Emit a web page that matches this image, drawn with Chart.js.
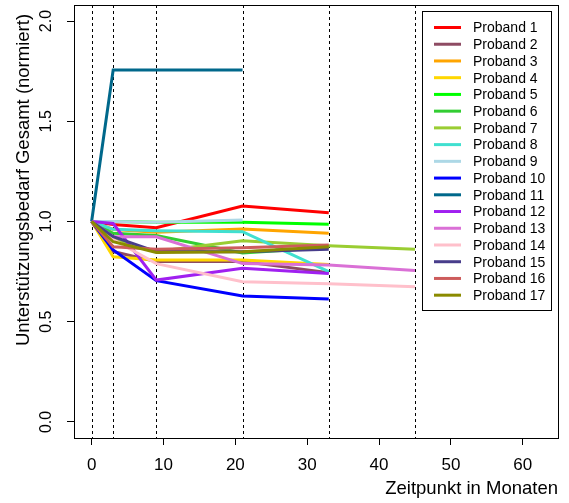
<!DOCTYPE html>
<html>
<head>
<meta charset="utf-8">
<script src="https://cdn.jsdelivr.net/npm/chart.js@4.4.0/dist/chart.umd.min.js"></script>
<style>
    html, body { margin: 0; padding: 0; background: #fff; }
    #wrap { width: 569px; height: 503px; }
</style>
</head>
<body>
<div id="wrap"><canvas id="plot"></canvas></div>
<script>
    // Zeitpunkte (Monate) und normierte Werte je Proband
    var months = [0, 3, 9, 21, 33, 45];
    var p1  = [1.00, 0.985, 0.969, 1.077, 1.044];
    var p2  = [1.00, 0.850, 0.800, 0.800, 0.745];
    var p3  = [1.00, 0.960, 0.946, 0.963, 0.941];
    var p4  = [1.00, 0.824, 0.808, 0.808, 0.785];
    var p5  = [1.00, 1.000, 0.996, 0.996, 0.986];
    var p6  = [1.00, 0.941, 0.930, 0.843, 0.870];
    var p7  = [1.00, 0.910, 0.850, 0.904, 0.879, 0.861];
    var p8  = [1.00, 0.961, 0.954, 0.949, 0.750];
    var p9  = [1.00, 1.000, 0.996, 1.007];
    var p10 = [1.00, 0.858, 0.705, 0.628, 0.613];
    var p11 = [1.00, 1.756, 1.756, 1.756];
    var p12 = [1.00, 0.990, 0.708, 0.767, 0.740];
    var p13 = [1.00, 0.924, 0.924, 0.790, 0.783, 0.755];
    var p14 = [1.00, 0.910, 0.790, 0.700, 0.690, 0.675];
    var p15 = [1.00, 0.924, 0.850, 0.849, 0.861];
    var p16 = [1.00, 0.874, 0.861, 0.869, 0.883];
    var p17 = [1.00, 0.899, 0.845, 0.849, 0.874];

    var series = [p1, p2, p3, p4, p5, p6, p7, p8, p9, p10, p11, p12, p13, p14, p15, p16, p17];
    var names = ["Proband 1", "Proband 2", "Proband 3", "Proband 4", "Proband 5", "Proband 6",
        "Proband 7", "Proband 8", "Proband 9", "Proband 10", "Proband 11", "Proband 12",
        "Proband 13", "Proband 14", "Proband 15", "Proband 16", "Proband 17"];
    var colors = ["#FF0000", "#8E4B63", "#FFA500", "#FFD700", "#00FF00", "#32CD32",
        "#9ACD32", "#40E0D0", "#ADD8E6", "#0000FF", "#00688B", "#A020F0",
        "#DA70D6", "#FFC0CB", "#483D8B", "#CD5C5C", "#8B8B00"];

    var xTicks = [0, 10, 20, 30, 40, 50, 60];
    var yTicks = [0, 0.5, 1, 1.5, 2];
    var vlines = [0, 3, 9, 21, 33, 45];
    var yTitle = 'Unterstützungsbedarf Gesamt (normiert)';

    var FONT = "'Liberation Sans', Arial, Helvetica, sans-serif";

    var datasets = series.map(function (vals, i) {
        return {
            label: names[i],
            data: vals.map(function (v, k) { return {x: months[k], y: v}; }),
            borderColor: colors[i],
            backgroundColor: colors[i],
            borderWidth: 3,
            pointRadius: 0,
            tension: 0,
            fill: false,
            order: series.length - 1 - i
        };
    });

    // gestrichelte Linien, Rahmen, gedrehte y-Beschriftung, Legende
    var rPlot = {
        id: 'rPlot',
        beforeDatasetsDraw: function (chart) {
            var ctx = chart.ctx, a = chart.chartArea, xs = chart.scales.x;
            ctx.save();
            ctx.strokeStyle = '#000';
            ctx.lineWidth = 1;
            ctx.setLineDash([3, 3]);
            vlines.forEach(function (v) {
                var px = Math.round(xs.getPixelForValue(v)) + 0.5;
                ctx.beginPath();
                ctx.moveTo(px, a.top);
                ctx.lineTo(px, a.bottom);
                ctx.stroke();
            });
            ctx.restore();
        },
        afterDraw: function (chart) {
            var ctx = chart.ctx, a = chart.chartArea, ys = chart.scales.y;
            ctx.save();
            ctx.strokeStyle = '#000';
            ctx.lineWidth = 1;
            ctx.strokeRect(Math.round(a.left) + 0.5, Math.round(a.top) + 0.5,
                Math.round(a.right - a.left), Math.round(a.bottom - a.top));

            ctx.fillStyle = '#000';
            ctx.font = '16px ' + FONT;
            ctx.textAlign = 'center';
            ctx.textBaseline = 'middle';
            yTicks.forEach(function (v) {
                ctx.save();
                ctx.translate(47, ys.getPixelForValue(v));
                ctx.rotate(-Math.PI / 2);
                ctx.fillText(v.toFixed(1), 0, 0);
                ctx.restore();
            });

            // y-Achsentitel
            ctx.save();
            ctx.font = '18.5px ' + FONT;
            ctx.translate(24, 180);
            ctx.rotate(-Math.PI / 2);
            ctx.fillText(yTitle, 0, 0);
            ctx.restore();

            // Legende
            var lx = 422.5, ly = 11.5, lw = 129, lh = 299, step = 16.73;
            ctx.fillStyle = '#fff';
            ctx.fillRect(lx, ly, lw, lh);
            ctx.strokeRect(lx, ly, lw, lh);
            ctx.font = '14px ' + FONT;
            ctx.textAlign = 'left';
            ctx.lineWidth = 3;
            chart.data.datasets.forEach(function (ds, i) {
                var cy = 27.5 + i * step;
                ctx.strokeStyle = ds.borderColor;
                ctx.beginPath();
                ctx.moveTo(434, cy);
                ctx.lineTo(461, cy);
                ctx.stroke();
                ctx.fillStyle = '#000';
                ctx.fillText(ds.label, 473, cy + 1);
            });
            ctx.restore();
        }
    };

    new Chart(document.getElementById('plot'), {
        type: 'line',
        data: {datasets: datasets},
        options: {
            responsive: true,
            maintainAspectRatio: false,
            animation: false,
            layout: {padding: {left: 0, right: 11, top: 5, bottom: 0}},
            plugins: {legend: {display: false}, tooltip: {enabled: false}},
            scales: {
                x: {
                    type: 'linear',
                    min: -2.45,
                    max: 64.9,
                    afterBuildTicks: function (s) { s.ticks = xTicks.map(function (v) { return {value: v}; }); },
                    afterFit: function (s) { s.height = 65; },
                    grid: {drawOnChartArea: false, drawTicks: true, tickLength: 7, tickColor: '#000', tickWidth: 1},
                    border: {display: false},
                    ticks: {color: '#000', font: {size: 17, family: FONT}, padding: 10, maxRotation: 0,
                        callback: function (v) { return String(v); }},
                    title: {display: true, text: 'Zeitpunkt in Monaten', align: 'end', color: '#000',
                        font: {size: 18.5, family: FONT}, padding: {top: 0, bottom: 3}}
                },
                y: {
                    type: 'linear',
                    min: -0.08,
                    max: 2.08,
                    afterBuildTicks: function (s) { s.ticks = yTicks.map(function (v) { return {value: v}; }); },
                    afterFit: function (s) { s.width = 74; },
                    grid: {drawOnChartArea: false, drawTicks: true, tickLength: 7, tickColor: '#000', tickWidth: 1},
                    border: {display: false},
                    ticks: {display: false},
                    title: {display: false}
                }
            }
        },
        plugins: [rPlot]
    });
</script>
</body>
</html>
